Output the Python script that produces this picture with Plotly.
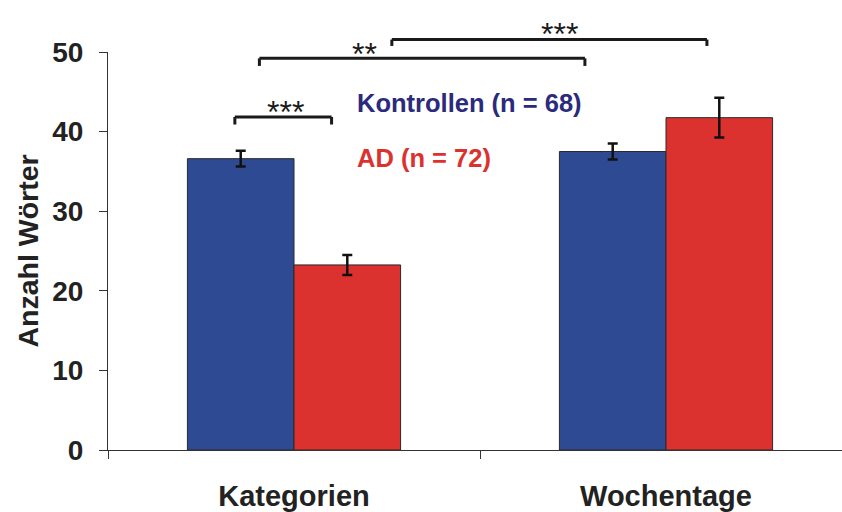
import plotly.graph_objects as go

# Word counts per task, mean and standard error
categories = ["Kategorien", "Wochentage"]
kontrollen_mean = [36.6, 37.5]
kontrollen_err = [1.0, 1.0]
ad_mean = [23.25, 41.75]
ad_err = [1.25, 2.5]

group_names = ["Kontrollen (n = 68)", "AD (n = 72)"]
y_ticks = [0, 10, 20, 30, 40, 50]
y_title = "Anzahl Wörter"

# Significance brackets: (x_left, x_right, level, drop, label, label_x, label_y)
brackets = [
    (-0.159, 0.101, 41.84, 0.95, "***", -0.024, 43.3),
    (-0.093, 0.782, 49.2, 0.95, "**", 0.19, 50.6),
    (0.263, 1.110, 51.56, 0.8, "***", 0.714, 53.1),
]

BLUE = "#2E4A93"
RED = "#DC322F"
NAVY = "#2B2A7C"
YMAX = 50
FONT = "Liberation Sans, Arial, sans-serif"

fig = go.Figure()
fig.add_trace(go.Bar(
    x=categories, y=kontrollen_mean, name=group_names[0],
    marker=dict(color=BLUE, line=dict(color="#2a2a2a", width=1)),
    error_y=dict(type="data", array=kontrollen_err, color="#111111", thickness=2.5, width=5),
))
fig.add_trace(go.Bar(
    x=categories, y=ad_mean, name=group_names[1],
    marker=dict(color=RED, line=dict(color="#2a2a2a", width=1)),
    error_y=dict(type="data", array=ad_err, color="#111111", thickness=2.5, width=5),
))

shapes = []
annotations = []
for x0, x1, lvl, drop, label, lx, ly in brackets:
    line = dict(color="#1a1a1a", width=3)
    shapes.append(dict(type="line", xref="x", yref="paper", x0=x0, x1=x1,
                       y0=lvl / YMAX, y1=lvl / YMAX, line=line))
    for xe in (x0, x1):
        shapes.append(dict(type="line", xref="x", yref="paper", x0=xe, x1=xe,
                           y0=lvl / YMAX, y1=(lvl - drop) / YMAX, line=line))
    annotations.append(dict(text=label, xref="x", yref="paper", x=lx, y=ly / YMAX,
                            showarrow=False, xanchor="center", yanchor="middle", yshift=-7,
                            font=dict(family=FONT, size=32, color="#1a1a1a")))

# Group labels inside the plot
annotations.append(dict(text="<b>" + group_names[0] + "</b>", xref="x", yref="y",
                        x=0.164, y=43.56, showarrow=False, xanchor="left", yanchor="middle",
                        font=dict(family=FONT, size=25.5, color=NAVY)))
annotations.append(dict(text="<b>" + group_names[1] + "</b>", xref="x", yref="y",
                        x=0.164, y=36.69, showarrow=False, xanchor="left", yanchor="middle",
                        font=dict(family=FONT, size=25.5, color=RED)))

fig.update_layout(
    width=842, height=512,
    margin=dict(l=108, r=0, t=52, b=60),
    paper_bgcolor="white", plot_bgcolor="white",
    barmode="group", bargap=0.427, bargroupgap=0,
    showlegend=False,
    shapes=shapes, annotations=annotations,
    font=dict(family=FONT, color="#222222"),
)
fig.update_xaxes(
    type="category", range=[-0.5, -0.5 + 734 / 372],
    showline=True, linecolor="#333333", linewidth=1,
    ticks="outside", tickson="boundaries", ticklen=8, tickcolor="#333333",
    ticklabelstandoff=20,
    tickfont=dict(family=FONT, size=29, color="#222222", weight="bold"),
    showgrid=False, zeroline=False,
)
fig.update_yaxes(
    range=[0, YMAX], tickvals=y_ticks,
    showline=True, linecolor="#333333", linewidth=1,
    ticks="outside", ticklen=8, tickcolor="#333333",
    ticklabelstandoff=10,
    tickfont=dict(family=FONT, size=28, color="#222222", weight="bold"),
    title=dict(text="<b>" + y_title + "</b>", standoff=5,
               font=dict(family=FONT, size=28.5, color="#222222")),
    showgrid=False, zeroline=False,
)

fig.write_html("out.html")
